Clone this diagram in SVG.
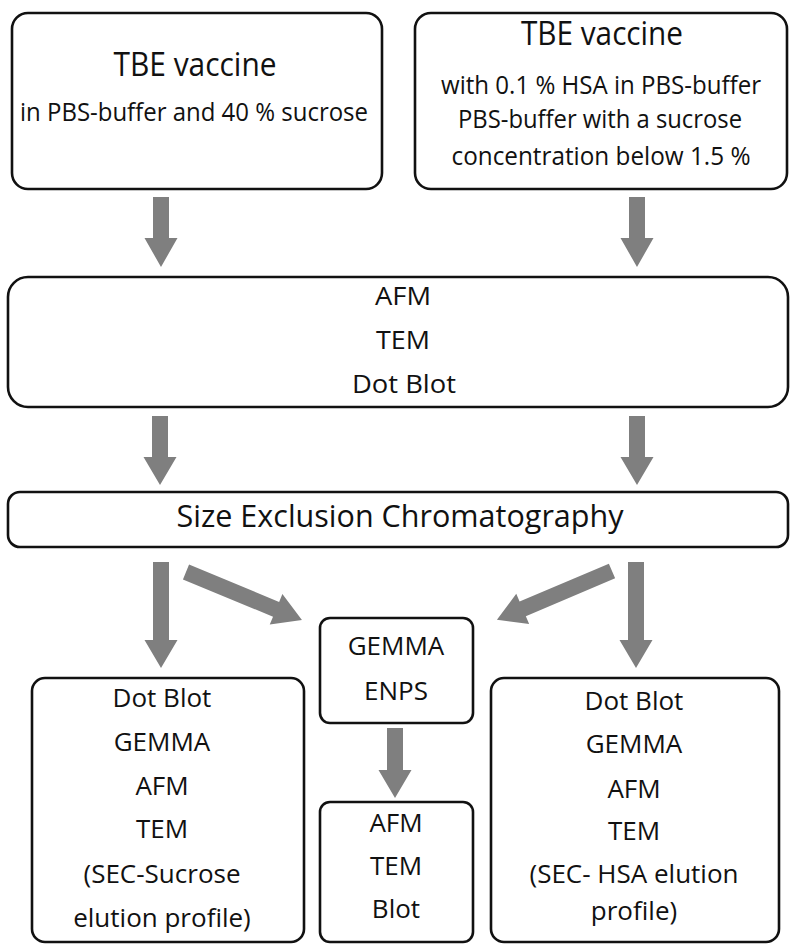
<svg xmlns="http://www.w3.org/2000/svg" width="800" height="952" viewBox="0 0 800 952">
<style>
.box{fill:#fff;stroke:#111;stroke-width:2.6}
.arr{fill:#7f7f7f}
text{font-family:"Open Sans","Noto Sans",sans-serif;fill:#111;text-anchor:middle}
.t32{font-size:32px}
.t25{font-size:25px}
.t26{font-size:26px}
</style>
<rect width="800" height="952" fill="#fff"/>
<g id="connectors">
<polygon class="arr" points="153,197 169,197 169,238 177.5,238 161,267 144.5,238 153,238"/>
<polygon class="arr" points="629,197 645,197 645,238 653.5,238 637,267 620.5,238 629,238"/>
<polygon class="arr" points="152,416 168,416 168,457 176.5,457 160,485 143.5,457 152,457"/>
<polygon class="arr" points="629,416 645,416 645,457 653.5,457 637,485 620.5,457 629,457"/>
<polygon class="arr" points="153,562 169,562 169,640 177.5,640 161,668 144.5,640 153,640"/>
<polygon class="arr" points="628,562 644,562 644,640 652.5,640 636,668 619.5,640 628,640"/>
<polygon class="arr" points="387,728 403,728 403,770 411.5,770 395,798 378.5,770 387,770"/>
<polygon class="arr" transform="translate(186,572) rotate(22.5)" points="0,-8 97.5,-8 97.5,-16.5 125.5,0 97.5,16.5 97.5,8 0,8"/>
<polygon class="arr" transform="translate(612,571) rotate(157)" points="0,-8 97,-8 97,-16.5 125,0 97,16.5 97,8 0,8"/>
</g>
<g id="vaccine-sucrose">
<rect class="box" x="12" y="13" width="370" height="176" rx="16"/>
<text class="t32" x="195" y="76" textLength="163" lengthAdjust="spacingAndGlyphs">TBE vaccine</text>
<text class="t25" x="194" y="121" textLength="348" lengthAdjust="spacingAndGlyphs">in PBS-buffer and 40 % sucrose</text>
</g>
<g id="vaccine-hsa">
<rect class="box" x="415" y="13" width="372" height="176" rx="16"/>
<text class="t32" x="602" y="45" textLength="162" lengthAdjust="spacingAndGlyphs">TBE vaccine</text>
<text class="t25" x="601" y="94" textLength="320" lengthAdjust="spacingAndGlyphs">with 0.1 % HSA in PBS-buffer</text>
<text class="t25" x="600" y="128" textLength="284" lengthAdjust="spacingAndGlyphs">PBS-buffer with a sucrose</text>
<text class="t25" x="601" y="165" textLength="299" lengthAdjust="spacingAndGlyphs">concentration below 1.5 %</text>
</g>
<g id="analysis-1">
<rect class="box" x="8" y="277" width="780" height="130" rx="20"/>
<text class="t26" x="403" y="305" textLength="56" lengthAdjust="spacingAndGlyphs">AFM</text>
<text class="t26" x="403" y="349" textLength="54" lengthAdjust="spacingAndGlyphs">TEM</text>
<text class="t26" x="404" y="393" textLength="104" lengthAdjust="spacingAndGlyphs">Dot Blot</text>
</g>
<g id="sec">
<rect class="box" x="8" y="492" width="780" height="55" rx="12"/>
<text x="400" y="527" font-size="31" textLength="447" lengthAdjust="spacingAndGlyphs">Size Exclusion Chromatography</text>
</g>
<g id="result-sucrose">
<rect class="box" x="32" y="678" width="272" height="264" rx="13"/>
<text class="t26" x="162" y="707">Dot Blot</text>
<text class="t26" x="162" y="751">GEMMA</text>
<text class="t26" x="162" y="795">AFM</text>
<text class="t26" x="162" y="838">TEM</text>
<text class="t26" x="162" y="883">(SEC-Sucrose</text>
<text class="t26" x="162" y="927">elution profile)</text>
</g>
<g id="gemma-enps">
<rect class="box" x="320" y="618" width="153" height="105" rx="10"/>
<text class="t26" x="396" y="655">GEMMA</text>
<text class="t26" x="396" y="700">ENPS</text>
</g>
<g id="result-center">
<rect class="box" x="320" y="802" width="153" height="140" rx="10"/>
<text class="t26" x="396" y="832">AFM</text>
<text class="t26" x="396" y="875">TEM</text>
<text class="t26" x="396" y="918">Blot</text>
</g>
<g id="result-hsa">
<rect class="box" x="491" y="678" width="288" height="264" rx="13"/>
<text class="t26" x="634" y="710">Dot Blot</text>
<text class="t26" x="634" y="753">GEMMA</text>
<text class="t26" x="634" y="798">AFM</text>
<text class="t26" x="634" y="840">TEM</text>
<text class="t26" x="634" y="883">(SEC- HSA elution</text>
<text class="t26" x="634" y="920">profile)</text>
</g>
</svg>
